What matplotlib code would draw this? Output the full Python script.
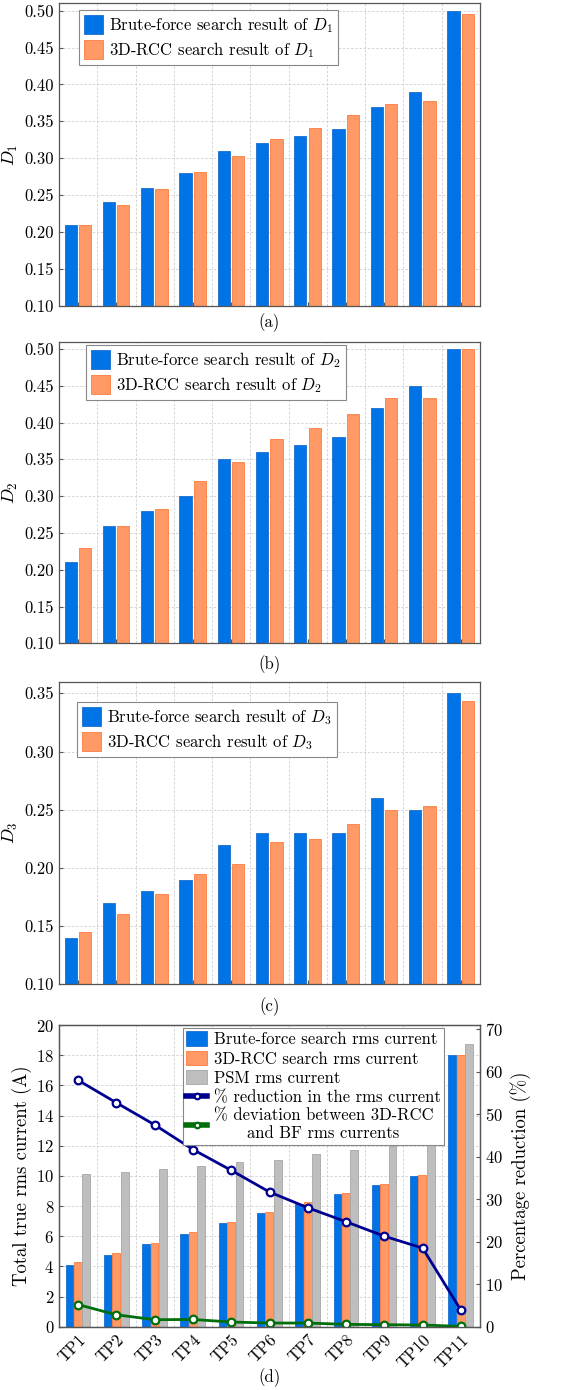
import matplotlib
matplotlib.use("Agg")
import matplotlib.pyplot as plt
import numpy as np
from matplotlib.ticker import FormatStrFormatter, FixedLocator

plt.rcParams['font.family'] = 'serif'
plt.rcParams['font.serif'] = ['cmr10']
plt.rcParams['mathtext.fontset'] = 'cm'
plt.rcParams['axes.formatter.use_mathtext'] = True

# ---------------- data ----------------
points = ["TP1", "TP2", "TP3", "TP4", "TP5", "TP6", "TP7", "TP8", "TP9", "TP10", "TP11"]

d1_bf = [0.21, 0.24, 0.26, 0.28, 0.31, 0.32, 0.33, 0.34, 0.37, 0.39, 0.50]
d1_rcc = [0.210, 0.236, 0.258, 0.281, 0.303, 0.326, 0.341, 0.358, 0.373, 0.377, 0.495]

d2_bf = [0.21, 0.26, 0.28, 0.30, 0.35, 0.36, 0.37, 0.38, 0.42, 0.45, 0.50]
d2_rcc = [0.230, 0.260, 0.282, 0.320, 0.347, 0.377, 0.392, 0.411, 0.433, 0.434, 0.500]

d3_bf = [0.14, 0.17, 0.18, 0.19, 0.22, 0.23, 0.23, 0.23, 0.26, 0.25, 0.35]
d3_rcc = [0.145, 0.160, 0.178, 0.195, 0.203, 0.222, 0.225, 0.238, 0.250, 0.253, 0.343]

rms_bf = [4.07, 4.76, 5.49, 6.15, 6.86, 7.52, 8.14, 8.81, 9.40, 10.00, 18.0]
rms_rcc = [4.29, 4.91, 5.55, 6.26, 6.92, 7.61, 8.27, 8.89, 9.49, 10.07, 18.0]
rms_psm = [10.11, 10.24, 10.44, 10.66, 10.90, 11.04, 11.44, 11.70, 11.97, 12.37, 18.74]

pct_reduction = [58.0, 52.7, 47.5, 41.7, 36.8, 31.7, 28.0, 24.7, 21.3, 18.5, 3.9]
pct_deviation = [5.2, 2.8, 1.65, 1.7, 1.1, 0.86, 0.86, 0.55, 0.47, 0.4, 0.08]

# ---------------- style ----------------
BLUE = "#0073E6"
BLUE_E = "#1a6fd0"
ORANGE = "#FF9966"
ORANGE_E = "#FF7A3D"
GRAY = "#BEBEBE"
GRAY_E = "#A6A6A6"
NAVY = "#000090"
GREEN = "#006E0A"
FRAME = "#555555"
FS = 12

W, H = 567, 1390
fig = plt.figure(figsize=(W / 100, H / 100), dpi=100)

left = 59 / W
width = 421 / W


def ax_rect(top_px, bot_px):
    return [left, 1 - bot_px / H, width, (bot_px - top_px) / H]


x = np.arange(len(points))


def style_axes(ax):
    for s in ax.spines.values():
        s.set_color(FRAME)
        s.set_linewidth(0.9)
    ax.set_xlim(-0.5, len(points) - 0.5)
    ax.xaxis.set_major_locator(FixedLocator(x))
    ax.xaxis.set_minor_locator(FixedLocator(x[:-1] + 0.5))
    ax.grid(True, which='major', axis='y', color='#cfcfcf', linestyle=(0, (3, 2)), linewidth=0.6)
    ax.grid(True, which='minor', axis='x', color='#cfcfcf', linestyle=(0, (3, 2)), linewidth=0.6)
    ax.set_axisbelow(True)
    ax.tick_params(axis='both', which='major', direction='in', length=3, color=FRAME, labelsize=FS)
    ax.tick_params(axis='x', which='minor', length=0)


def d_panel(top_px, bot_px, bf, rcc, ylim, yticks, sub, leg_anchor, label_y):
    ax = fig.add_axes(ax_rect(top_px, bot_px))
    style_axes(ax)
    bw = 0.32
    ax.bar(x - 0.195, np.array(bf) - ylim[0], bw, bottom=ylim[0], color=BLUE, edgecolor=BLUE_E, linewidth=0.6,
           label=r"Brute-force search result of $D_{%s}$" % sub)
    ax.bar(x + 0.18, np.array(rcc) - ylim[0], bw, bottom=ylim[0], color=ORANGE, edgecolor=ORANGE_E, linewidth=0.6,
           label=r"3D-RCC search result of $D_{%s}$" % sub)
    ax.set_ylim(*ylim)
    ax.set_yticks(yticks)
    ax.yaxis.set_major_formatter(FormatStrFormatter('%.2f'))
    ax.set_xticklabels([])
    ax.set_ylabel(r"$D_{%s}$" % sub, fontsize=FS + 1, labelpad=3)
    leg = ax.legend(loc='upper left', bbox_to_anchor=leg_anchor, borderaxespad=0, fontsize=FS,
                    fancybox=False, framealpha=1, edgecolor='#888888', handlelength=1.15,
                    handleheight=1.35, handletextpad=0.35, labelspacing=0.3, borderpad=0.3)
    leg.get_frame().set_linewidth(0.8)
    fig.text(left + width / 2, 1 - label_y / H, "(%s)" % {"1": "a", "2": "b", "3": "c"}[sub],
             ha='center', va='center', fontsize=FS)
    return ax


d_panel(3.3, 305.7, d1_bf, d1_rcc, (0.10, 0.51), np.arange(0.10, 0.501, 0.05), "1", (0.0475, 0.978), 323)
d_panel(341.6, 643.3, d2_bf, d2_rcc, (0.10, 0.51), np.arange(0.10, 0.501, 0.05), "2", (0.064, 0.989), 665)
d_panel(681.7, 984.3, d3_bf, d3_rcc, (0.10, 0.36), np.arange(0.10, 0.351, 0.05), "3", (0.043, 0.933), 1007)

# ---------------- panel (d) ----------------
ax = fig.add_axes(ax_rect(1025, 1326.7))
style_axes(ax)
bw = 0.205
h1 = ax.bar(x - 0.225, rms_bf, bw, color=BLUE, edgecolor=BLUE_E, linewidth=0.6, label="Brute-force search rms current")
h2 = ax.bar(x - 0.005, rms_rcc, bw, color=ORANGE, edgecolor=ORANGE_E, linewidth=0.6, label="3D-RCC search rms current")
h3 = ax.bar(x + 0.215, rms_psm, bw, color=GRAY, edgecolor=GRAY_E, linewidth=0.6, label="PSM rms current")
ax.set_ylim(0, 20)
ax.set_yticks(np.arange(0, 21, 2))
ax.set_xticklabels(points, rotation=45, ha='right', rotation_mode='anchor', fontsize=FS)
ax.tick_params(axis='x', which='major', pad=4)
ax.set_ylabel("Total true rms current (A)", fontsize=13.5, labelpad=3)

ax2 = ax.twinx()
ax2.set_ylim(0, 71)
ax2.set_yticks(np.arange(0, 71, 10))
ax2.tick_params(axis='y', direction='in', length=3, color=FRAME, labelsize=FS)
for s in ax2.spines.values():
    s.set_color(FRAME)
    s.set_linewidth(0.9)
l1, = ax2.plot(x, pct_reduction, '-o', color=NAVY, lw=2, ms=5.5, mfc='white', mec=NAVY, mew=1.6,
               label="% reduction in the rms current")
l2, = ax2.plot(x, pct_deviation, '-o', color=GREEN, lw=2, ms=5.5, mfc='white', mec=GREEN, mew=1.6,
               label="% deviation between 3D-RCC\nand BF rms currents")
ax2.set_ylabel("Percentage reduction (%)", fontsize=13.5, labelpad=5)

leg = ax2.legend([h1, h2, h3, l1, l2], [h1.get_label(), h2.get_label(), h3.get_label(), l1.get_label(), l2.get_label()],
                 loc='upper left', bbox_to_anchor=(0.2945, 0.99), borderaxespad=0, fontsize=FS,
                 fancybox=False, framealpha=1, edgecolor='#888888', handlelength=1.25,
                 handleheight=0.95, handletextpad=0.4, labelspacing=0.2, borderpad=0.2)
leg.get_frame().set_linewidth(0.8)
for t in leg.get_texts():
    t.set_multialignment('center')
for lh in leg.get_lines():
    lh.set_linewidth(4)
    lh.set_markersize(4)
fig.text(left + width / 2, 1 - 1378 / H, "(d)", ha='center', va='center', fontsize=FS)

fig.savefig("out.png", dpi=100)
